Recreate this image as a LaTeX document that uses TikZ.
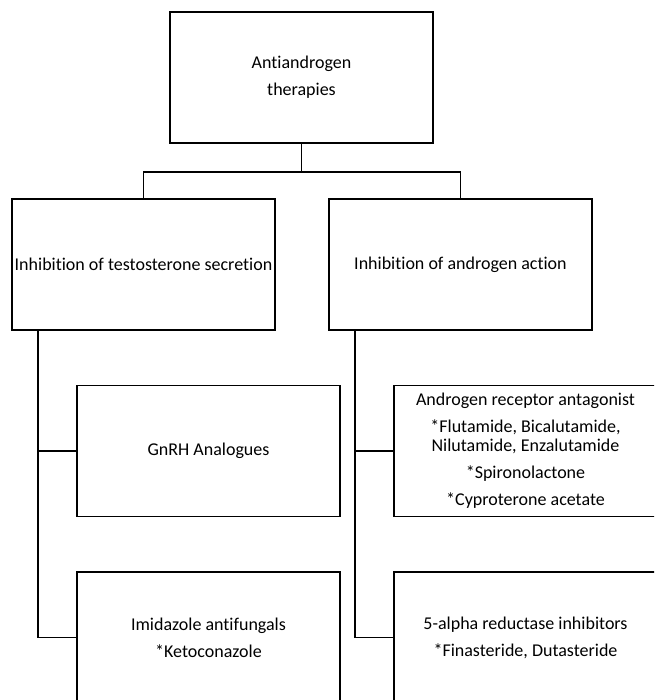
\documentclass[tikz,border=0pt]{standalone}
\usepackage{fontspec}
\setmainfont[Ligatures={NoCommon}]{Carlito}
\usepackage{tikz}

\tikzset{
  box/.style={draw, line width=0.8pt, minimum width=197.25pt, minimum height=98.25pt,
    inner sep=0.75pt, align=center, font=\fontsize{13.5}{14.25}\selectfont},
  link/.style={line width=0.8pt}
}

\begin{document}
\begin{tikzpicture}[x=0.75pt,y=0.75pt,yscale=-1,xscale=1]
%set diagram to 654 x 700
\useasboundingbox (0,0) rectangle (654,700);
\clip (0,0) rectangle (654,700);

%Shape: Rectangle [top]
\node [box] (top) at (301.5,77.5) {Antiandrogen\\[6pt]therapies};
%Shape: Rectangle [second row]
\node [box] (sec) at (143.5,264.5) {Inhibition of testosterone secretion};
\node [box] (act) at (460.5,264.5) {Inhibition of androgen action};
%Shape: Rectangle [left column]
\node [box] (gnrh) at (208.5,451) {GnRH Analogues};
\node [box] (imid) at (208.5,637.5) {Imidazole antifungals\\[6pt]*Ketoconazole};
%Shape: Rectangle [right column]
\node [box] (arant) at (525.5,451) {Androgen receptor antagonist\\[6pt]*Flutamide, Bicalutamide,\\Nilutamide, Enzalutamide\\[6pt]*Spironolactone\\[6pt]*Cyproterone acetate};
\node [box] (alpha) at (525.5,637.5) {5-alpha reductase inhibitors\\[6pt]*Finasteride, Dutasteride};

%Straight Lines
\coordinate (split) at (301.5,172);
\coordinate (lspine) at (38,330.5);
\coordinate (rspine) at (355,330.5);
\draw [link] (top.south) -- (split);
\draw [link] (sec.north) -- (sec.north |- split) -- (act.north |- split) -- (act.north);
\draw [link] (lspine) |- (gnrh.west);
\draw [link] (lspine) |- (imid.west);
\draw [link] (rspine) |- (arant.west);
\draw [link] (rspine) |- (alpha.west);

\end{tikzpicture}
\end{document}
